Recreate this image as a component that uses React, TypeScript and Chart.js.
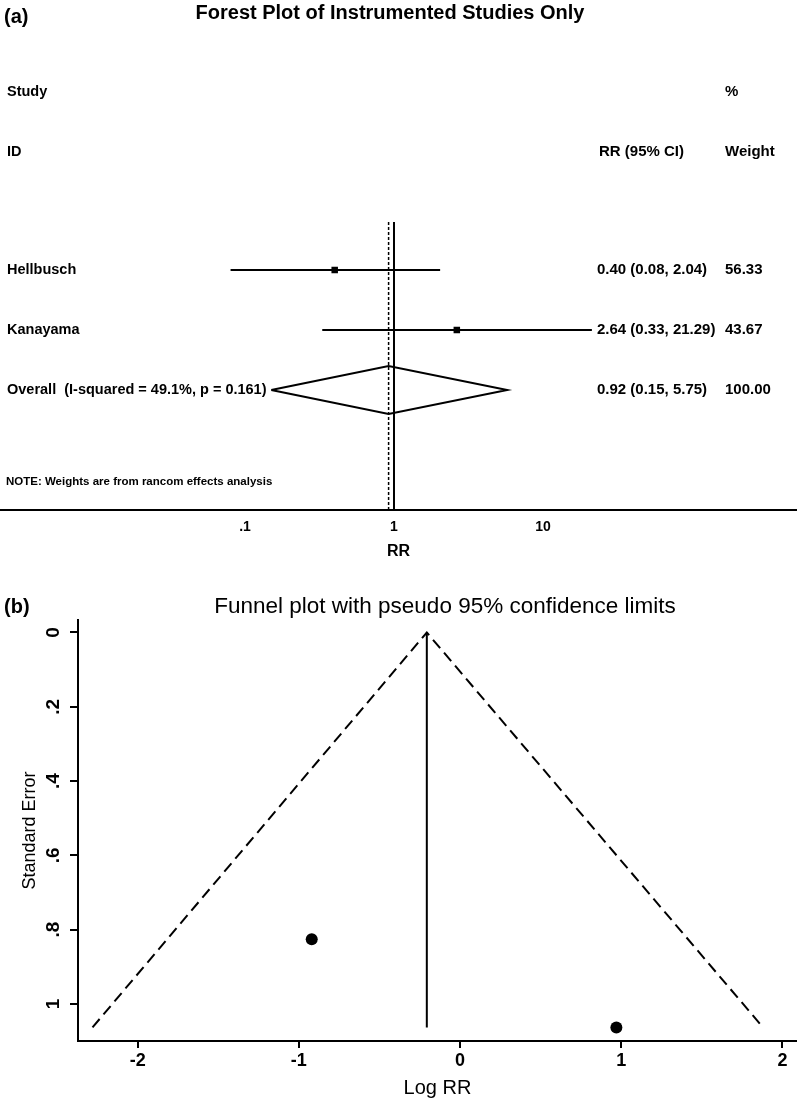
import React, { useEffect, useRef } from 'react';
import { Chart, registerables } from 'chart.js';

Chart.register(...registerables);

const FONT = '"Liberation Sans", Arial, Helvetica, sans-serif';

// ---------- Forest plot data ----------
const forestTitle = 'Forest Plot of Instrumented Studies Only';
const studyNames = ['Hellbusch', 'Kanayama'];
const studyRR = [0.4, 2.64];
const studyLow = [0.08, 0.33];
const studyHigh = [2.04, 21.29];
const studyWeights = ['56.33', '43.67'];
const studyRows = [3, 4];
const overallLabel = 'Overall  (I-squared = 49.1%, p = 0.161)';
const overallRR = [0.92];
const overallLow = [0.15];
const overallHigh = [5.75];
const overallWeight = ['100.00'];
const overallRow = 5;
const diamondHalfHeight = 0.4;
const refLineRows = [2.2, 7];
const noteText = 'NOTE: Weights are from rancom effects analysis';
const forestTickValues = [0.1, 1, 10];
const forestTickLabels = ['.1', '1', '10'];

// ---------- Funnel plot data ----------
const funnelTitle = 'Funnel plot with pseudo 95% confidence limits';
const funnelLogRR = [-0.92, 0.97];
const funnelSE = [0.826, 1.063];
const funnelLimitX = [-2.28, -0.206, 1.88];
const funnelLimitY = [1.063, 0, 1.063];
const pooledLogRR = -0.206;
const pooledLineSE = [0, 1.063];
const funnelXTicks = [-2, -1, 0, 1, 2];
const funnelXTickLabels = ['-2', '-1', '0', '1', '2'];
const funnelYTicks = [0, 0.2, 0.4, 0.6, 0.8, 1];
const funnelYTickLabels = ['0', '.2', '.4', '.6', '.8', '1'];

const fmt = (v: number) => v.toFixed(2);

export default function App() {
  const forestRef = useRef<HTMLCanvasElement | null>(null);
  const funnelRef = useRef<HTMLCanvasElement | null>(null);

  useEffect(() => {
    if (!forestRef.current || !funnelRef.current) return;

    const forestDatasets: any[] = [];
    studyNames.forEach((_, i) => {
      forestDatasets.push({
        data: [
          { x: studyLow[i], y: studyRows[i] },
          { x: studyHigh[i], y: studyRows[i] },
        ],
        showLine: true,
        borderColor: '#000',
        borderWidth: 2,
        pointRadius: 0,
      });
    });
    forestDatasets.push({
      data: studyRR.map((x, i) => ({ x, y: studyRows[i] })),
      showLine: false,
      pointStyle: 'rect',
      pointRadius: 4.6,
      backgroundColor: '#000',
      borderColor: '#000',
      borderWidth: 0,
    });
    forestDatasets.push({
      data: [
        { x: overallLow[0], y: overallRow },
        { x: overallRR[0], y: overallRow - diamondHalfHeight },
        { x: overallHigh[0], y: overallRow },
        { x: overallRR[0], y: overallRow + diamondHalfHeight },
        { x: overallLow[0], y: overallRow },
      ],
      showLine: true,
      fill: false,
      borderColor: '#000',
      borderWidth: 2,
      pointRadius: 0,
      tension: 0,
    });
    forestDatasets.push({
      data: refLineRows.map((y) => ({ x: 1, y })),
      showLine: true,
      borderColor: '#000',
      borderWidth: 2,
      pointRadius: 0,
    });
    forestDatasets.push({
      data: refLineRows.map((y) => ({ x: overallRR[0], y })),
      showLine: true,
      borderColor: '#000',
      borderWidth: 1.5,
      borderDash: [3, 2],
      pointRadius: 0,
    });

    const forestText = {
      id: 'forestText',
      afterDraw(chart: any) {
        const ctx = chart.ctx;
        const ys = chart.scales.y;
        ctx.save();
        ctx.fillStyle = '#000';
        ctx.textBaseline = 'middle';
        ctx.font = `bold 20px ${FONT}`;
        ctx.textAlign = 'left';
        ctx.fillText('(a)', 4, 17);
        ctx.textAlign = 'center';
        ctx.fillText(forestTitle, 390, 13);
        ctx.textAlign = 'left';
        const left = `bold 14.5px ${FONT}`;
        const right = `bold 15px ${FONT}`;
        const put = (t: string, x: number, row: number, f: string) => {
          ctx.font = f;
          ctx.fillText(t, x, ys.getPixelForValue(row));
        };
        put('Study', 7, 0.03, left);
        put('%', 725, 0.03, right);
        put('ID', 7, 1.03, left);
        put('RR (95% CI)', 599, 1.03, right);
        put('Weight', 725, 1.03, right);
        studyNames.forEach((n, i) => {
          put(n, 7, studyRows[i], left);
          put(`${fmt(studyRR[i])} (${fmt(studyLow[i])}, ${fmt(studyHigh[i])})`, 597, studyRows[i], right);
          put(studyWeights[i], 725, studyRows[i], right);
        });
        put(overallLabel, 7, overallRow, left);
        put(`${fmt(overallRR[0])} (${fmt(overallLow[0])}, ${fmt(overallHigh[0])})`, 597, overallRow, right);
        put(overallWeight[0], 725, overallRow, right);
        put(noteText, 6, 6.53, `bold 11.5px ${FONT}`);
        ctx.restore();
      },
    };

    const forest = new Chart(forestRef.current, {
      type: 'scatter',
      data: { datasets: forestDatasets },
      options: {
        responsive: false,
        animation: false,
        events: [],
        layout: { autoPadding: false, padding: { top: 30, left: 0, right: 0, bottom: 0 } },
        plugins: {
          legend: { display: false },
          tooltip: { enabled: false },
          title: { display: false },
        },
        scales: {
          x: {
            type: 'logarithmic',
            min: 0.002268,
            max: 506.8,
            afterBuildTicks: (s: any) => {
              s.ticks = forestTickValues.map((v) => ({ value: v }));
            },
            ticks: {
              callback: (_v: any, i: number) => forestTickLabels[i],
              font: { family: FONT, size: 14, weight: 'bold', lineHeight: 1 },
              color: '#000',
              padding: 10,
              autoSkip: false,
              maxRotation: 0,
            },
            grid: { display: false, drawTicks: false },
            border: { display: true, color: '#000', width: 2 },
            title: {
              display: true,
              text: 'RR',
              color: '#000',
              font: { family: FONT, size: 16, weight: 'bold', lineHeight: 1 },
              padding: { top: 0, bottom: 4 },
            },
          },
          y: { type: 'linear', display: false, reverse: true, min: -1, max: 7 },
        },
      } as any,
      plugins: [forestText],
    });

    const funnelText = {
      id: 'funnelText',
      afterDraw(chart: any) {
        const ctx = chart.ctx;
        const ys = chart.scales.y;
        ctx.save();
        ctx.fillStyle = '#000';
        ctx.textBaseline = 'middle';
        ctx.font = `bold 20px ${FONT}`;
        ctx.textAlign = 'left';
        ctx.fillText('(b)', 4, 43);
        ctx.font = `22.5px ${FONT}`;
        ctx.textAlign = 'center';
        ctx.fillText(funnelTitle, 445, 43);
        ctx.font = `bold 19px ${FONT}`;
        funnelYTicks.forEach((v, i) => {
          const py = ys.getPixelForValue(v);
          ctx.save();
          ctx.translate(54, py);
          ctx.rotate(-Math.PI / 2);
          ctx.textAlign = 'center';
          ctx.fillText(funnelYTickLabels[i], 0, 0);
          ctx.restore();
        });
        ctx.restore();
      },
    };

    const funnel = new Chart(funnelRef.current, {
      type: 'scatter',
      data: {
        datasets: [
          {
            data: funnelLimitX.map((x, i) => ({ x, y: funnelLimitY[i] })),
            showLine: true,
            borderColor: '#000',
            borderWidth: 2,
            borderDash: [11, 6],
            pointRadius: 0,
          },
          {
            data: pooledLineSE.map((y) => ({ x: pooledLogRR, y })),
            showLine: true,
            borderColor: '#000',
            borderWidth: 2,
            pointRadius: 0,
          },
          {
            data: funnelLogRR.map((x, i) => ({ x, y: funnelSE[i] })),
            showLine: false,
            pointRadius: 6,
            backgroundColor: '#000',
            borderColor: '#000',
            borderWidth: 0,
          },
        ],
      },
      options: {
        responsive: false,
        animation: false,
        events: [],
        layout: { autoPadding: false, padding: { top: 56, left: 0, right: 0, bottom: 0 } },
        plugins: {
          legend: { display: false },
          tooltip: { enabled: false },
          title: { display: false },
        },
        scales: {
          x: {
            type: 'linear',
            min: -2.37,
            max: 2.0906,
            afterBuildTicks: (s: any) => {
              s.ticks = funnelXTicks.map((v) => ({ value: v }));
            },
            ticks: {
              callback: (_v: any, i: number) => funnelXTickLabels[i],
              font: { family: FONT, size: 18, weight: 'bold', lineHeight: 1 },
              color: '#000',
              padding: 4,
              autoSkip: false,
              maxRotation: 0,
            },
            grid: {
              display: true,
              drawOnChartArea: false,
              drawTicks: true,
              tickLength: 7,
              color: '#000',
              lineWidth: 2,
            },
            border: { display: true, color: '#000', width: 2 },
            title: {
              display: true,
              text: 'Log RR',
              color: '#000',
              font: { family: FONT, size: 20, lineHeight: 1 },
              padding: { top: 4, bottom: 1 },
            },
          },
          y: {
            type: 'linear',
            reverse: true,
            min: -0.0336,
            max: 1.0996,
            afterBuildTicks: (s: any) => {
              s.ticks = funnelYTicks.map((v) => ({ value: v }));
            },
            afterFit: (s: any) => {
              s.width = 78;
            },
            ticks: { display: false },
            grid: {
              display: true,
              drawOnChartArea: false,
              drawTicks: true,
              tickLength: 8,
              color: '#000',
              lineWidth: 2,
            },
            border: { display: true, color: '#000', width: 2 },
            title: {
              display: true,
              text: 'Standard Error',
              color: '#000',
              font: { family: FONT, size: 18, lineHeight: 1 },
              padding: { top: 21.5, bottom: 0 },
            },
          },
        },
      } as any,
      plugins: [funnelText],
    });

    return () => {
      forest.destroy();
      funnel.destroy();
    };
  }, []);

  return (
    <div
      style={{
        position: 'absolute',
        left: 0,
        top: 0,
        width: 797,
        height: 1099,
        background: '#fff',
      }}
    >
      <canvas ref={forestRef} width={797} height={564} style={{ display: 'block' }} />
      <canvas ref={funnelRef} width={797} height={535} style={{ display: 'block' }} />
    </div>
  );
}
